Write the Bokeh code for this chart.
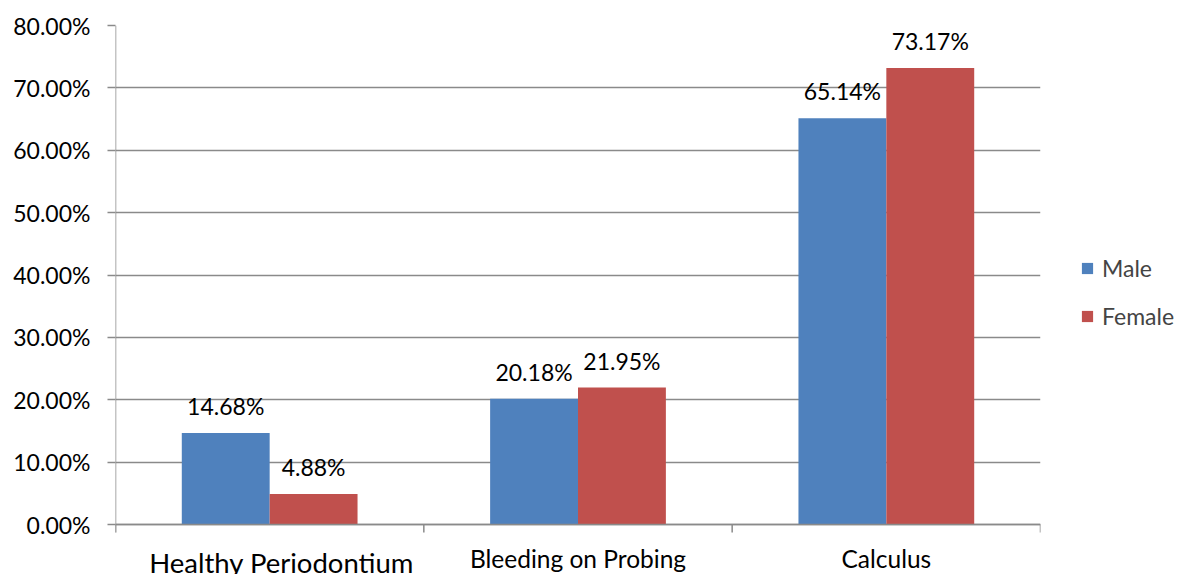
from bokeh.plotting import figure
from bokeh.models import (ColumnDataSource, LabelSet, Legend, LegendItem,
                          FixedTicker, Range1d, Span)
from bokeh.core.properties import value
from bokeh.embed import file_html
from bokeh.resources import INLINE

categories = ["Healthy Periodontium", "Bleeding on Probing", "Calculus"]
male = [14.68, 20.18, 65.14]
female = [4.88, 21.95, 73.17]
y_ticks = [0, 10, 20, 30, 40, 50, 60, 70, 80]

FONT = "Lato"
BLUE = "#4F81BD"
RED = "#C0504D"
GRID = "#8A8A8A"

# layout in pixels
FRAME_W, TOP, ZERO_Y, CANVAS_H = 925, 25, 524, 574
PX_PER_UNIT = (ZERO_Y - TOP) / y_ticks[-1]
TICK_LEN = 8 / PX_PER_UNIT          # tick length in data units
y_min = -(CANVAS_H - ZERO_Y) / PX_PER_UNIT

n = len(categories)
centers = [i + 0.5 for i in range(n)]
bar_w = 0.285

src = ColumnDataSource(dict(
    xm=[c - bar_w / 2 for c in centers],
    xf=[c + bar_w / 2 for c in centers],
    male=male,
    female=female,
    male_lbl=[f"{v:.2f}%" for v in male],
    female_lbl=[f"{v:.2f}%" for v in female],
))

p = figure(frame_width=FRAME_W, frame_height=CANVAS_H - TOP,
           min_border_left=115, min_border_right=142,
           min_border_top=TOP, min_border_bottom=0,
           x_range=Range1d(0, n), y_range=Range1d(y_min, y_ticks[-1]),
           x_axis_location=None,
           output_backend="svg", toolbar_location=None,
           background_fill_color="white", border_fill_color="white")
p.outline_line_color = None

# horizontal gridlines (0..80 only)
p.xgrid.grid_line_color = None
p.ygrid.ticker = FixedTicker(ticks=y_ticks)
p.ygrid.grid_line_color = GRID
p.ygrid.grid_line_width = 1.5

# category axis: baseline, boundary ticks and vertical axis line
p.add_layout(Span(location=0, dimension="width", line_color=GRID, line_width=1.5))
bounds = list(range(n + 1))
p.segment(x0=bounds, x1=bounds, y0=[-TICK_LEN] * len(bounds), y1=[0] * len(bounds),
          line_color=GRID, line_width=1.5)
p.segment(x0=[0], x1=[0], y0=[-TICK_LEN], y1=[y_ticks[-1]],
          line_color=GRID, line_width=1.5)

rm = p.vbar(x="xm", top="male", width=bar_w, source=src,
            fill_color=BLUE, line_color=None)
rf = p.vbar(x="xf", top="female", width=bar_w, source=src,
            fill_color=RED, line_color=None)

for xcol, ycol, tcol in (("xm", "male", "male_lbl"), ("xf", "female", "female_lbl")):
    p.add_layout(LabelSet(x=xcol, y=ycol, text=tcol, source=src,
                          text_align="center", text_baseline="bottom",
                          y_offset=13, text_font=value(FONT),
                          text_font_size="23px", text_color="black"))

# category names below the baseline (the first one is set larger)
for i, (c, name) in enumerate(zip(centers, categories)):
    big = i == 0
    p.text(x=[c], y=[0], text=[name], text_align="center", text_baseline="top",
           x_offset=12 if big else 0, y_offset=21 if big else 19,
           text_font=value(FONT), text_font_size="27.5px" if big else "24.5px",
           text_color="black")

# value axis
p.yaxis.ticker = FixedTicker(ticks=y_ticks)
p.yaxis.major_label_overrides = {t: f"{t:.2f}%" for t in y_ticks}
p.yaxis.major_label_text_font = FONT
p.yaxis.major_label_text_font_size = "23px"
p.yaxis.major_label_text_color = "black"
p.yaxis.major_label_standoff = 17
p.yaxis.axis_line_color = None
p.yaxis.major_tick_line_color = GRID
p.yaxis.major_tick_line_width = 1.5
p.yaxis.major_tick_out = 8
p.yaxis.major_tick_in = 0
p.yaxis.minor_tick_line_color = None

legend = Legend(items=[LegendItem(label="Male", renderers=[rm]),
                       LegendItem(label="Female", renderers=[rf])],
                location=(40, 244), orientation="vertical",
                border_line_color=None, background_fill_alpha=0,
                label_text_font=FONT, label_text_font_size="23px",
                glyph_width=14, glyph_height=14, label_standoff=8,
                spacing=20, padding=0, margin=0)
p.add_layout(legend, "right")

open("out.html", "w").write(file_html(p, INLINE))
